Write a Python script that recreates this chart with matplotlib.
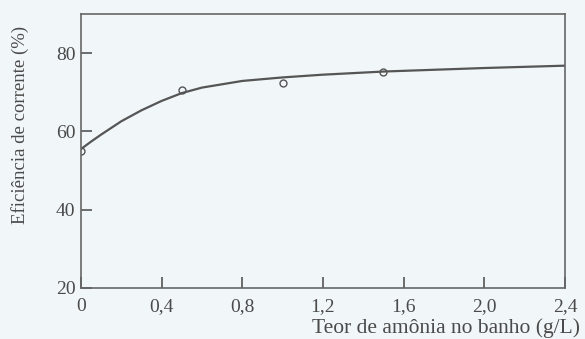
import matplotlib
matplotlib.use("Agg")
import matplotlib.pyplot as plt

# measured points
amonia = [0.0, 0.5, 1.0, 1.5]
eficiencia = [55.0, 70.5, 72.5, 75.3]

# fitted curve
curva_x = [0.0, 0.05, 0.1, 0.2, 0.3, 0.4, 0.5, 0.6, 0.8, 1.0, 1.2, 1.5, 2.0, 2.4]
curva_y = [55.5, 57.4, 59.2, 62.6, 65.4, 67.8, 69.8, 71.2, 72.9, 73.8, 74.5, 75.3, 76.2, 76.8]

x_ticks = [0, 0.4, 0.8, 1.2, 1.6, 2.0, 2.4]
x_labels = ["0", "0,4", "0,8", "1,2", "1,6", "2,0", "2,4"]
y_ticks = [20, 40, 60, 80]

plt.rcParams["font.family"] = ["Liberation Serif", "DejaVu Serif"]

fig = plt.figure(figsize=(5.85, 3.39), dpi=100)
fig.patch.set_facecolor("#f1f6f8")
ax = fig.add_axes([81 / 585, 1 - 288 / 339, 484 / 585, 274 / 339])
ax.set_facecolor("#f1f6f8")

ax.plot(curva_x, curva_y, color="#555555", lw=1.6)
ax.plot(amonia, eficiencia, "o", ms=5, mfc="none", mec="#555555", mew=1.0)

ax.set_xlim(0, 2.4)
ax.set_ylim(20, 90)
ax.set_xticks(x_ticks, x_labels)
ax.set_yticks(y_ticks)
ax.tick_params(direction="in", length=8, width=1.2, color="#555555",
               labelsize=14, labelcolor="#4a4a4a")
ax.tick_params(axis="x", pad=7)
ax.tick_params(axis="y", pad=4)
for s in ax.spines.values():
    s.set_color("#666666")
    s.set_linewidth(1.2)

ax.set_ylabel("Eficiência de corrente (%)", fontsize=13.5, color="#4a4a4a",
              va="center")
ax.yaxis.set_label_coords(-0.126, 0.595)
ax.set_xlabel("Teor de amônia no banho (g/L)", fontsize=15.5, color="#4a4a4a",
              ha="right", va="center")
ax.xaxis.set_label_coords(1.031, -0.146)

fig.savefig("out.png", dpi=100, facecolor=fig.get_facecolor())
